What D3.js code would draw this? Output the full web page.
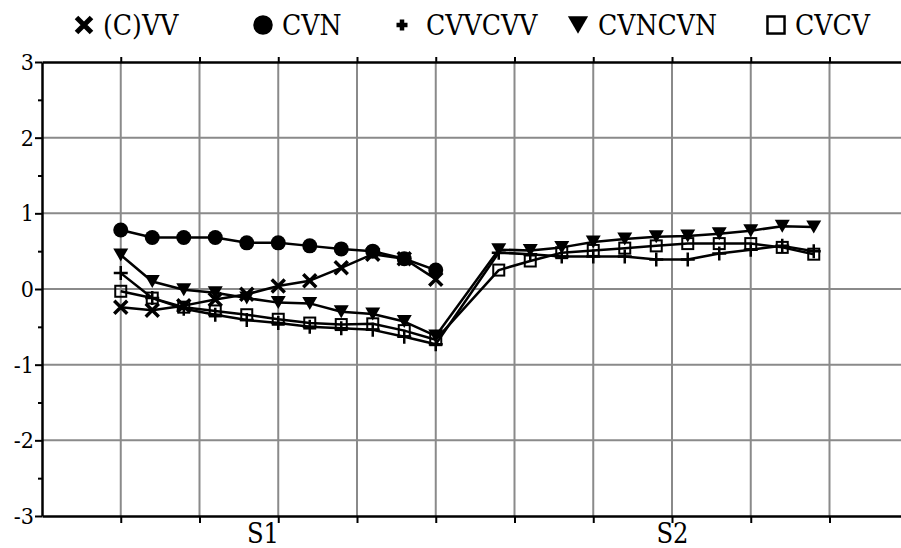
<!DOCTYPE html>
<html><head><meta charset="utf-8">
<script src="https://cdn.jsdelivr.net/npm/d3@7"></script>
<style>body{margin:0;background:#fff} svg{display:block}
.ser{font-family:"DejaVu Serif Condensed","DejaVu Serif",serif;font-stretch:condensed;}
</style>
</head><body><svg id="c" width="901" height="548"></svg>
<script>
const categories = ["S1", "S2"];
const seriesNames = ["(C)VV", "CVN", "CVVCVV", "CVNCVN", "CVCV"];
// S1 values (11 points each)
const vvS1     = [-0.24, -0.28, -0.22, -0.14, -0.07, 0.04, 0.11, 0.28, 0.46, 0.40, 0.13];
const cvnS1    = [0.78, 0.68, 0.68, 0.68, 0.61, 0.61, 0.57, 0.53, 0.50, 0.40, 0.25];
const cvvcvvS1 = [0.21, -0.12, -0.26, -0.34, -0.41, -0.45, -0.50, -0.52, -0.54, -0.63, -0.73];
const cvncvnS1 = [0.45, 0.10, -0.01, -0.05, -0.12, -0.18, -0.19, -0.30, -0.33, -0.43, -0.62];
const cvcvS1   = [-0.03, -0.12, -0.24, -0.29, -0.34, -0.40, -0.45, -0.47, -0.46, -0.55, -0.67];
// S2 values (11 points each)
const cvvcvvS2 = [0.48, 0.46, 0.43, 0.43, 0.43, 0.39, 0.39, 0.47, 0.52, 0.57, 0.50];
const cvncvnS2 = [0.52, 0.51, 0.55, 0.62, 0.66, 0.69, 0.70, 0.73, 0.77, 0.83, 0.82];
const cvcvS2   = [0.25, 0.37, 0.48, 0.51, 0.54, 0.57, 0.60, 0.60, 0.60, 0.55, 0.46];
const yTicks = [-3, -2, -1, 0, 1, 2, 3];
const yTickLabels = ["-3", "-2", "-1", "0", "1", "2", "3"];
const yMinorTicks = [-2.5, -1.5, -0.5, 0.5, 1.5, 2.5];
const xGridTicks = [0, 2.5, 5, 7.5, 10, 12.5, 15, 17.5, 20, 22.5];
const categoryPositions = [4.5, 17.5];

const S2_OFFSET = 12;
function pts(s1, s2) {
  const a = s1.map((v, i) => ({i: i, v: v}));
  const b = (s2 || []).map((v, i) => ({i: i + S2_OFFSET, v: v}));
  return a.concat(b);
}
const series = [
  {name: seriesNames[0], data: pts(vvS1, null), marker: "times"},
  {name: seriesNames[1], data: pts(cvnS1, null), marker: "circle"},
  {name: seriesNames[2], data: pts(cvvcvvS1, cvvcvvS2), marker: "plus"},
  {name: seriesNames[3], data: pts(cvncvnS1, cvncvnS2), marker: "triangle"},
  {name: seriesNames[4], data: pts(cvcvS1, cvcvS2), marker: "square"}
];

const svg = d3.select("#c");
const x = d3.scaleLinear().domain([-2.5, 25.5]).range([42, 924]);
const y = d3.scaleLinear().domain([-3, 3]).range([516, 62]);
const xRight = 901;

// grid
const grid = svg.append("g");
grid.selectAll("line.h").data(yTicks.filter(d => d > -3 && d < 3)).join("line")
  .attr("x1", x(-2.5)).attr("x2", xRight).attr("y1", d => y(d)).attr("y2", d => y(d))
  .attr("stroke", "#8a8a8a").attr("stroke-width", 2);
grid.selectAll("line.v").data(xGridTicks).join("line")
  .attr("x1", d => x(d)).attr("x2", d => x(d)).attr("y1", y(3)).attr("y2", y(-3))
  .attr("stroke", "#8a8a8a").attr("stroke-width", 2);

// top border with ticks
const topAx = svg.append("g").attr("transform", `translate(0,${y(3)})`)
  .call(d3.axisTop(x).tickValues(xGridTicks).tickSize(5).tickSizeOuter(0).tickFormat(""));
topAx.select(".domain").attr("stroke-width", 2.5);
topAx.selectAll(".tick line").attr("stroke-width", 2);

// bottom axis
const botAx = svg.append("g").attr("transform", `translate(0,${y(-3)})`)
  .call(d3.axisBottom(x).tickValues(xGridTicks).tickSize(7).tickSizeOuter(0).tickFormat(""));
botAx.select(".domain").attr("stroke-width", 2.5);
botAx.selectAll(".tick line").attr("stroke-width", 2);
const catAx = svg.append("g").attr("transform", `translate(0,${y(-3)})`)
  .call(d3.axisBottom(x).tickValues(categoryPositions).tickSize(0).tickPadding(0)
    .tickFormat((d, i) => categories[i]));
catAx.attr("font-family", null).attr("font-size", null).attr("class", "ser");
catAx.select(".domain").remove();
catAx.selectAll("text").attr("dy", null).attr("y", 27)
  .attr("font-size", 27).attr("fill", "#000");

// left axis
const leftAx = svg.append("g").attr("transform", `translate(${x(-2.5)},0)`)
  .call(d3.axisLeft(y).tickValues(yTicks).tickSize(7).tickSizeOuter(0).tickPadding(1)
    .tickFormat((d, i) => yTickLabels[i]));
leftAx.attr("font-family", null).attr("font-size", null).attr("class", "ser");
leftAx.select(".domain").attr("stroke-width", 2.5);
leftAx.selectAll(".tick line").attr("stroke-width", 2);
leftAx.selectAll("text").attr("font-size", 23).attr("fill", "#000");
const minorAx = svg.append("g").attr("transform", `translate(${x(-2.5)},0)`)
  .call(d3.axisLeft(y).tickValues(yMinorTicks).tickSize(4).tickFormat(""));
minorAx.select(".domain").remove();
minorAx.selectAll(".tick line").attr("stroke-width", 2);

// marker drawing
function drawMarker(g, type, s) {
  if (type === "circle") {
    g.append("circle").attr("r", 7.5 * s).attr("fill", "#000");
  } else if (type === "triangle") {
    const w = 7.5 * s, h = 6.5 * s;
    g.append("path").attr("d", `M${-w},${-h}L${w},${-h}L0,${h}Z`).attr("fill", "#000");
  } else if (type === "square") {
    const r = 5.5 * s;
    g.append("rect").attr("x", -r).attr("y", -r).attr("width", 2 * r).attr("height", 2 * r)
      .attr("fill", "none").attr("stroke", "#000").attr("stroke-width", 2 * Math.sqrt(s));
  } else if (type === "plus") {
    const r = 7 * s;
    g.append("path").attr("d", `M${-r},0H${r}M0,${-r}V${r}`)
      .attr("stroke", "#000").attr("stroke-width", 2.5 * Math.sqrt(s)).attr("fill", "none");
  } else if (type === "times") {
    const r = 6.5 * s;
    g.append("path").attr("d", `M${-r},${-r}L${r},${r}M${-r},${r}L${r},${-r}`)
      .attr("stroke", "#000").attr("stroke-width", 3.5 * Math.sqrt(s)).attr("fill", "none");
  }
}

// lines
const line = d3.line().x(d => x(d.i)).y(d => y(d.v));
const plot = svg.append("g");
series.forEach(s => {
  plot.append("path").datum(s.data).attr("d", line)
    .attr("fill", "none").attr("stroke", "#000").attr("stroke-width", 2.5)
    .attr("stroke-linejoin", "round");
});
series.forEach(s => {
  s.data.forEach(d => {
    const g = plot.append("g").attr("transform", `translate(${x(d.i)},${y(d.v)})`);
    drawMarker(g, s.marker, 1);
  });
});

// legend
const legendMarkerX = [84, 263, 402, 578, 776];
const legendTextX = [103, 282, 426, 598, 795];
const legendScale = [1.3, 1.3, 0.85, 1.35, 1.55];
const legend = svg.append("g").attr("class", "ser");
series.forEach((s, i) => {
  const g = legend.append("g").attr("transform", `translate(${legendMarkerX[i]},25)`);
  if (s.marker === "plus") {
    g.append("path").attr("d", "M-5.5,0H5.5M0,-5.5V5.5").attr("stroke", "#000").attr("stroke-width", 4.5);
  } else if (s.marker === "times") {
    g.append("path").attr("d", "M-7.5,-7.5L7.5,7.5M-7.5,7.5L7.5,-7.5").attr("stroke", "#000").attr("stroke-width", 5);
  } else {
    drawMarker(g, s.marker, legendScale[i]);
  }
  legend.append("text").attr("x", legendTextX[i]).attr("y", 35)
    .attr("font-size", 28).attr("fill", "#000").text(s.name);
});
</script></body></html>
